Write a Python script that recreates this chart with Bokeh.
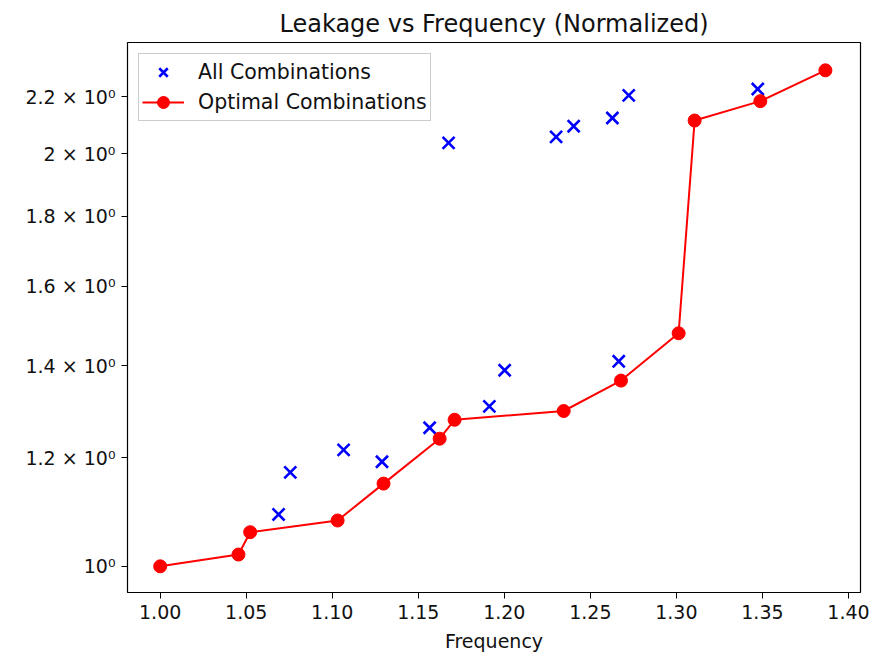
from bokeh.plotting import figure
from bokeh.models import FixedTicker, Legend, LegendItem
from bokeh.embed import file_html
from bokeh.resources import INLINE

# All evaluated combinations (normalized frequency, normalized leakage)
all_freq = [1.0688, 1.0756, 1.1066, 1.1289, 1.1566, 1.1676, 1.1913, 1.2002,
            1.2301, 1.2403, 1.2628, 1.2665, 1.2723, 1.3473]
all_leak = [1.091, 1.171, 1.216, 1.192, 1.262, 2.036, 1.308, 1.390,
            2.057, 2.094, 2.123, 1.411, 2.205, 2.229]

# Pareto-optimal combinations
opt_freq = [1.000, 1.0455, 1.0523, 1.1031, 1.1298, 1.1624, 1.1711, 1.2345,
            1.2678, 1.3013, 1.3106, 1.3488, 1.3866]
opt_leak = [1.000, 1.020, 1.059, 1.080, 1.149, 1.239, 1.279, 1.298,
            1.366, 1.479, 2.114, 2.184, 2.300]

y_ticks = [1.0, 1.2, 1.4, 1.6, 1.8, 2.0, 2.2]
y_tick_labels = {1.0: "10⁰", 1.2: "1.2 × 10⁰", 1.4: "1.4 × 10⁰", 1.6: "1.6 × 10⁰",
                 1.8: "1.8 × 10⁰", 2.0: "2 × 10⁰", 2.2: "2.2 × 10⁰"}
x_ticks = [1.00, 1.05, 1.10, 1.15, 1.20, 1.25, 1.30, 1.35, 1.40]
x_tick_labels = {t: f"{t:.2f}" for t in x_ticks}

FONT = "DejaVu Sans"
TICK_SIZE = "19px"

p = figure(width=873, height=655, y_axis_type="log",
           x_range=(0.981, 1.407), y_range=(0.957, 2.41),
           output_backend="svg", toolbar_location=None,
           title="Leakage vs Frequency (Normalized)",
           min_border_left=127, min_border_right=13,
           min_border_top=42, min_border_bottom=63)

p.title.align = "center"
p.title.text_font = FONT
p.title.text_font_size = "24px"
p.title.text_font_style = "normal"
p.title.text_color = "#111111"
p.title.standoff = 10

p.outline_line_color = "black"
p.outline_line_width = 1.2
p.xgrid.visible = False
p.ygrid.visible = False
p.background_fill_color = "white"
p.border_fill_color = "white"

for ax in (p.xaxis[0], p.yaxis[0]):
    ax.axis_line_color = None
    ax.major_tick_in = 0
    ax.major_tick_out = 6
    ax.major_tick_line_color = "black"
    ax.minor_tick_line_color = None
    ax.major_label_text_font = FONT
    ax.major_label_text_font_size = TICK_SIZE
    ax.major_label_text_color = "#111111"
    ax.major_label_standoff = 6
    ax.axis_label_text_font = FONT
    ax.axis_label_text_font_style = "normal"
    ax.axis_label_text_font_size = TICK_SIZE
    ax.axis_label_text_color = "#111111"

p.xaxis.ticker = FixedTicker(ticks=x_ticks)
p.xaxis.major_label_overrides = x_tick_labels
p.xaxis.axis_label = "Frequency"
p.xaxis.axis_label_standoff = 8

p.yaxis.ticker = FixedTicker(ticks=y_ticks, minor_ticks=[])
p.yaxis.major_label_overrides = y_tick_labels

r_all = p.scatter(all_freq, all_leak, marker="x", size=17, line_width=2.6,
                  color="blue")
r_line = p.line(opt_freq, opt_leak, line_color="red", line_width=2)
r_pts = p.scatter(opt_freq, opt_leak, marker="circle", size=13,
                  color="red")

legend = Legend(items=[LegendItem(label="All Combinations", renderers=[r_all]),
                       LegendItem(label="Optimal Combinations", renderers=[r_line, r_pts])],
                location="top_left")
legend.label_text_font = FONT
legend.label_text_font_size = "20.5px"
legend.label_text_color = "#111111"
legend.border_line_color = "#cccccc"
legend.border_line_alpha = 1
legend.background_fill_alpha = 0.8
legend.margin = 11
legend.padding = 3
legend.spacing = 0
legend.glyph_width = 42
legend.glyph_height = 30
legend.label_height = 24
legend.label_standoff = 14
p.add_layout(legend)

open("out.html", "w").write(file_html(p, INLINE))
